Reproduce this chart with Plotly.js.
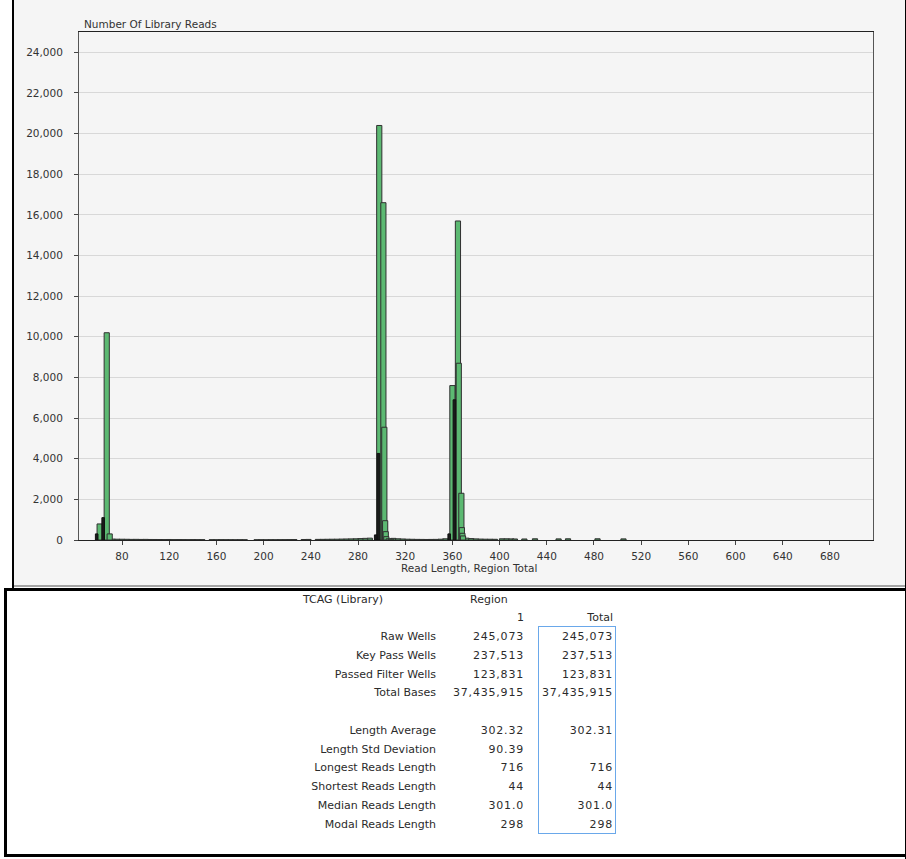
<!DOCTYPE html>
<html>
<head>
<meta charset="utf-8">
<title>Read Length Histogram</title>
<script src="https://cdn.plot.ly/plotly-3.0.1.min.js"></script>
<style>
  html, body { margin: 0; padding: 0; background: #fff; width: 906px; height: 859px; overflow: hidden;
               font-family: "DejaVu Sans", sans-serif; }
  .blk { position: absolute; }
  #chart { position: absolute; left: 0; top: 0; width: 906px; height: 586px; }
  .cell { position: absolute; white-space: nowrap; font-size: 11px; line-height: 14px; color: #2b2b2b; }
  .num { letter-spacing: 0.8px; }
</style>
</head>
<body>
<!-- chart panel frame -->
<div class="blk" style="left:14px;top:0;width:892px;height:585px;background:#f5f5f5;"></div>
<div class="blk" style="left:12px;top:0;width:2px;height:588px;background:#000;"></div>
<div class="blk" style="left:14px;top:585px;width:892px;height:2px;background:#a4a4a4;"></div>
<!-- statistics panel frame -->
<div class="blk" style="left:4px;top:588px;width:902px;height:3px;background:#000;"></div>
<div class="blk" style="left:4px;top:588px;width:3px;height:269px;background:#000;"></div>
<div class="blk" style="left:4px;top:854px;width:902px;height:3px;background:#000;"></div>
<div class="blk" style="left:905px;top:0;width:1px;height:859px;background:#000;"></div>

<div id="chart"></div>
<div id="stats"></div>

<script>
// Main peaks of the read-length distribution (read length, number of reads)
const peakLengths = [67, 61, 69.5, 298, 301.5, 302.3, 303, 303.5, 304, 306, 308,
                     364.7, 365.4, 360, 367.6, 368, 368.5, 369];
const peakCounts  = [10200, 790, 300, 20400, 16600, 5550, 950, 410, 165, 60, 40,
                     15700, 8700, 7600, 2300, 610, 330, 200];

// Narrow bars sitting on the flanks of the peaks
const spikeLengths = [58.5, 64, 295, 297.3, 357.3, 361.7];
const spikeCounts  = [300, 1100, 250, 4260, 300, 6900];

// Low background counts between the peaks
const lowLengths = [72,76,80,84,88,92,96,100,104,108,112,116,120,124,128,132,136,140,144,148,
                    156,160,164,168,172,176,180,184,
                    194,198,202,206,210,214,218,222,226,
                    234,238,
                    246,250,254,258,262,266,270,274,278,282,286,290,
                    310,314,318,322,326,330,334,338,342,346,350,354,
                    372,376,380,384,388,392,396,
                    402,406,410,413, 421,430, 450,458, 483,505];
const lowCounts  = [45,40,38,35,30,32,28,30,26,25,24,22,25,20,22,20,18,20,18,16,
                    15,14,16,15,14,12,14,12,
                    12,14,12,15,14,16,18,20,22,
                    25,28,
                    30,32,35,38,40,45,50,55,60,70,80,90,
                    80,60,50,40,35,30,28,26,28,30,40,60,
                    90,70,55,45,40,38,35,
                    60,60,55,50, 50,60, 55,60, 60,55];

// Summary table
const tableTitle = "TCAG (Library)";
const regionHeader = "Region";
const columnHeaders = ["1", "Total"];
const rowLabels = ["Raw Wells", "Key Pass Wells", "Passed Filter Wells", "Total Bases", "",
                   "Length Average", "Length Std Deviation", "Longest Reads Length",
                   "Shortest Reads Length", "Median Reads Length", "Modal Reads Length"];
const region1Values = ["245,073", "237,513", "123,831", "37,435,915", "",
                       "302.32", "90.39", "716", "44", "301.0", "298"];
const totalValues   = ["245,073", "237,513", "123,831", "37,435,915", "",
                       "302.31", "", "716", "44", "301.0", "298"];

// draw taller bars first so shorter overlapping ones stay visible
function byHeight(xs, ys) {
  const idx = xs.map((_, i) => i).sort((a, b) => ys[b] - ys[a]);
  return { x: idx.map(i => xs[i]), y: idx.map(i => ys[i]) };
}

const green = '#5cb972';
const edge = '#303030';
const fontFam = '"DejaVu Sans", sans-serif';

const low = byHeight(lowLengths, lowCounts);
const peaks = byHeight(peakLengths, peakCounts);
const spikes = byHeight(spikeLengths, spikeCounts);

const traces = [
  { type: 'bar', x: low.x, y: low.y, width: 4.4, opacity: 1,
    marker: { color: green, line: { color: edge, width: 1 } } },
  { type: 'bar', x: peaks.x, y: peaks.y, width: 4.4, opacity: 1,
    marker: { color: green, line: { color: edge, width: 1 } } },
  { type: 'bar', x: spikes.x, y: spikes.y, width: 2.2, opacity: 1,
    marker: { color: '#1a1a1a', line: { color: '#111', width: 1 } } }
];

const layout = {
  width: 906, height: 586,
  margin: { l: 79, r: 33, t: 32, b: 46, pad: 0 },
  paper_bgcolor: 'rgba(0,0,0,0)',
  plot_bgcolor: '#f5f5f5',
  showlegend: false,
  barmode: 'overlay',
  bargap: 0,
  font: { family: fontFam, size: 10.5, color: '#333' },
  xaxis: {
    range: [43.5, 716.5], tick0: 0, dtick: 40, tickmode: 'linear',
    showgrid: false, zeroline: false,
    showline: true, linecolor: '#222', linewidth: 1, mirror: true,
    ticks: 'outside', ticklen: 4, tickcolor: '#444', tickwidth: 1, ticklabelstandoff: 2,
    tickfont: { family: fontFam, size: 10.5, color: '#333' }
  },
  yaxis: {
    range: [0, 25000], tick0: 0, dtick: 2000, tickmode: 'linear', tickformat: ',d',
    showgrid: true, gridcolor: '#d8d8d8', gridwidth: 1, zeroline: false,
    showline: true, linecolor: '#555', linewidth: 1, mirror: true,
    ticks: 'outside', ticklen: 4, tickcolor: '#444', tickwidth: 1, ticklabelstandoff: 9,
    tickfont: { family: fontFam, size: 10.5, color: '#333' }
  },
  annotations: [
    { text: 'Number Of Library Reads', xref: 'paper', yref: 'paper', x: 0, y: 1,
      xanchor: 'left', yanchor: 'bottom', xshift: 3, yshift: 0, showarrow: false,
      font: { family: fontFam, size: 10.5, color: '#333' } },
    { text: 'Read Length, Region Total', xref: 'paper', yref: 'paper', x: 0.491, y: 0,
      xanchor: 'center', yanchor: 'middle', yshift: -28, showarrow: false,
      font: { family: fontFam, size: 10.5, color: '#333' } }
  ]
};

Plotly.newPlot('chart', traces, layout, { displayModeBar: false, staticPlot: true });

// summary table, right-aligned columns
const stats = document.getElementById('stats');
const rowStep = 18.75, firstRow = 618.3;
const labelRight = 436, col1Right = 524, col2Right = 613;

function place(text, yCenter, opts) {
  const d = document.createElement('div');
  d.className = 'cell' + (opts.num ? ' num' : '');
  d.textContent = text;
  d.style.top = (yCenter - 7) + 'px';
  if (opts.left !== undefined) d.style.left = opts.left + 'px';
  if (opts.right !== undefined) { d.style.right = (906 - opts.right) + 'px'; d.style.textAlign = 'right'; }
  stats.appendChild(d);
}

place(tableTitle, firstRow - rowStep, { left: 303 });
place(regionHeader, firstRow - rowStep, { left: 470 });
place(columnHeaders[0], firstRow, { right: col1Right });
place(columnHeaders[1], firstRow, { right: col2Right });
rowLabels.forEach((lab, i) => {
  const y = firstRow + rowStep * (i + 1);
  if (lab) place(lab, y, { right: labelRight });
  if (region1Values[i]) place(region1Values[i], y, { right: col1Right, num: true });
  if (totalValues[i]) place(totalValues[i], y, { right: col2Right, num: true });
});

// selection outline around the Total column
const box = document.createElement('div');
box.className = 'blk';
box.style.cssText = 'left:538px;top:626px;width:78px;height:208px;box-sizing:border-box;border:1px solid #6aa8ea;';
stats.appendChild(box);
</script>
</body>
</html>
